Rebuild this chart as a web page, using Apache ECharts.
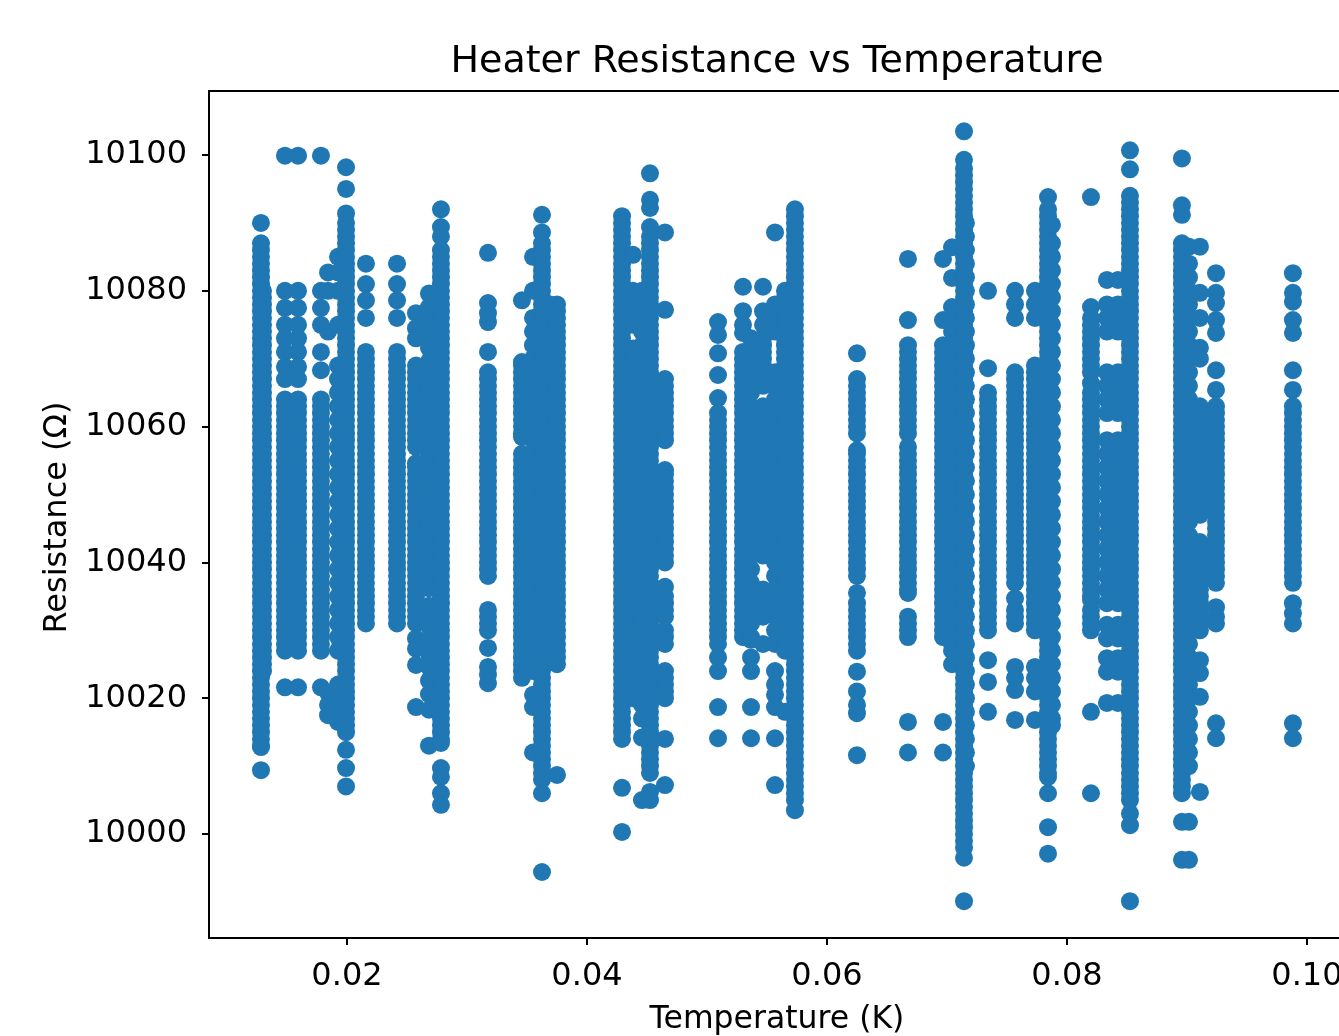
<!DOCTYPE html>
<html><head><meta charset="utf-8">
<style>html,body{margin:0;padding:0;background:#fff;overflow:hidden}#c{width:1339px;height:1036px}</style>
<script src="https://cdn.jsdelivr.net/npm/echarts@6/dist/echarts.min.js"></script>
</head><body><div id="c"></div>
<script>
const titleText = 'Heater Resistance vs Temperature';
const xName = 'Temperature (K)';
const yName = 'Resistance (Ω)';
const xTicks = [0.02, 0.04, 0.06, 0.08, 0.10];
const yTicks = [10000, 10020, 10040, 10060, 10080, 10100];
const resistanceBase = 10000;
// each row: temperature (K), then resistance readings relative to resistanceBase (ohm)
const t01283=[0.01283,90,87,86,85,84,83,82,81,80,79,78,77,76,75,74,73,72,71,70,69,68,67,66,65,64,63,62,61,60,59,58,57,56,55,54,53,52,51,50,49,48,47,46,45,44,43,42,41,40,39,38,37,36,35,34,33,32,31,30,29,28,27,26,25,24,23,22,21,20,19,18,17,16,15,14,13,12.8,9.4];
const t01300=[0.0130,80,79,78,77,76,75,74,73,72,71,70,69,68,67,66,65,64,63,62,61,60,59,58,57,56,55,54,53,52,51,50,49,48,47,46,45,44,43,42,41,40,39,38,37,36,35,34,33,32,31,30,29,28,27,26,25,24];
const t01483=[0.01483,99.9,80,77.5,75,73,71,68.8,67,64,63,62,61,60,59,58,57,56,55,54,53,52,51,50,49,48,47,46,45,44,43,42,41,40,39,38,37,36,35,34,33,32,31,30,29,28,27,21.6];
const t01592=[0.01592,99.9,80,77.5,75,73,71,68.8,67,64,63,62,61,60,59,58,57,56,55,54,53,52,51,50,49,48,47,46,45,44,43,42,41,40,39,38,37,36,35,34,33,32,31,30,29,28,27,21.6];
const t01783=[0.01783,99.9,80,77.5,75,71,68.3,64,63,62,61,60,59,58,57,56,55,54,53,52,51,50,49,48,47,46,45,44,43,42,41,40,39,38,37,36,35,34,33,32,31,30,29,28,27,21.6];
const t01842=[0.01842,82.7,80,74,20.8,19,17.5];
const t01925=[0.01925,85,82.7,80,75,69,67,65,63,61,59,57,55,53,51,49,47,45,43,41,39,37,35,33,31,29,27,22,20,18,16.5];
const t01992=[0.01992,98.2,95,91.4,90,89,88,87,86,85,84,83,82,81,80,79,78,77,76,75,74,73,72,71,70,69,68,67,66,65,64,63,62,61,60,59,58,57,56,55,54,53,52,51,50,49,48,47,46,45,44,43,42,41,40,39,38,37,36,35,34,33,32,31,30,29,28,27,26,25,24,23,22,21,20,19,18,17,16,15,12.4,9.7,7];
const t02158=[0.02158,84,81,78.6,76,71,70,69,68,67,66,65,64,63,62,61,60,59,58,57,56,55,54,53,52,51,50,49,48,47,46,45,44,43,42,41,40,39,38,37,36,35,34,33,32,31];
const t02417=[0.02417,84,81,78.6,76,71,70,69,68,67,66,65,64,63,62,61,60,59,58,57,56,55,54,53,52,51,50,49,48,47,46,45,44,43,42,41,40,39,38,37,36,35,34,33,32,31];
const t02575=[0.02575,76.7,74.5,73,69,68,67,66,65,64,63,62,61,60,59,58,57,54.6,54,53,52,51,50,49,48,47,46,45,44,43,42,41,40,39,38,37,36,35,34,33,32,31,28.8,27.3,24.9,18.7];
const t02683=[0.02683,79.6,77.6,75.6,73.6,71.6,69.6,67.6,65.6,63.6,61.6,59.6,57.6,55.6,53.6,51.6,49.6,47.6,45.6,43.6,41.6,39.6,37.8,36.2,33.6,31.6,30.6,28.6,26.6,24.6,22.6,20.6,18.3,13];
const t02783=[0.02783,92,89.4,88,86,85,84,83,82,81,80,79,78,77,76,75,74,73,72,71,70,69,68,67,66,65,64,63,62,61,60,59,58,57,56,55,54,53,52,51,50,49,48,47,46,45,44,43,42,41,40,39,38,37,36,35,34,33,32,31,30,29,28,27,26,25,24,23,22,21,20,19,18,17,16,15,14,13.4,9.7,8.4,6,4.3];
const t03175=[0.03175,85.6,78.2,76.7,75.4,71,68,67,66,65,64,63,62,61,60,59,58,57,56,55,54,53,52,51,50,49,48,47,46,45,44,43,42,41,40,39,38,33,32,31,30,27.4,24.6,23.5,22.2];
const t03458=[0.03458,78.6,69.5,69,68,67,66,65,64,63,62,61,60,59,58.5,56,55,54,53,52,51,50,49,48,47,46,45,44,43,42,41,40,39,38,37,36,35,34,33,32,31,30,29,28,27,26,25,24,23];
const t03550=[0.0355,85,80,76,74,72,70,68,66,64,62,60,58,56,54,52,50,48,46,44,42,40,38,36,34,32,30,28,26,24,20.5,18.7,12];
const t03625=[0.03625,91.2,88.6,87,86,85,84,83,82,81,80,79,78,77,76,75,74,73,72,71,70,69,68,67,66,65,64,63,62,61,60,59,58,57,56,55,54,53,52,51,50,49,48,47,46,45,44,43,42,41,40,39,38,37,36,35,34,33,32,31,30,29,28,27,26,25,24,23,22,21,20,19,18,17,16,15,14,13,12,11,10,9,8,6,-5.6];
const t03692=[0.03692,78,76,74,72,70,68,66,64,62,60,58,56,54,52,50,48,46,44,42,40,38,36,34,32,30,28,26];
const t03750=[0.0375,78,77,76,75,74,73,72,71,70,69,68,67,66,65,64,63,62,61,60,59,58,57,56,55,54,53,52,51,50,49,48,47,46,45,44,43,42,41,40,39,38,37,36,35,34,33,32,31,30,29,28,27,26,25,8.7];
const t04292=[0.04292,91,90,89,88,87,86,85,84,83,82,81,80,79,78,77,76,75,74,73,72,71,70,69,68,67,66,65,64,63,62,61,60,59,58,57,56,55,54,53,52,51,50,49,48,47,46,45,44,43,42,41,40,39,38,37,36,35,34,33,32,31,30,29,28,27,26,25,24,23,22,21,20,19,18,17,16,15,14,6.8,0.3];
const t04383=[0.04383,85.3,80,78,76,75,71.5,70,68,66,64,62,60,58,56,54,52,50,48,46,44,42,40,38,36,34,32,30,28.5,27,25,23,21,20];
const t04458=[0.04458,80,78,76,74,72,70,68,66,64,62,60,58,56,54,52,50,48,46,44,42,40,38,36,34,32,31,29,27,25,23,21,19,17,14.2,5];
const t04525=[0.04525,97.3,93.4,92.2,89.4,88,87,86,85,84,83,82,81,80,79,78,77,76,75,74,73,72,71,70,69,68,67,66,65,64,63,62,61,60,59,58,57,56,55,54,53,52,51,50,49,48,47,46,45,44,43,42,41,40,39,38,37,36,35,34,33,32,31,30,29,28,27,26,25,24,23,22,21,20,19,18,17,16,15,14,13,12,11,10,9,6.2,5];
const t04650=[0.0465,88.6,77.2,67,66,65,64,63,62,61,60,59,58,53.6,53,52,51,50,49,48,47,46,45,44,43,42,41,40,36.4,35,34,33,32,30,29,28,24,23,22,21,20,14,7.2];
const t05092=[0.05092,75.4,73.5,70.8,67.6,64.2,62,61,60,59,58,57,56,55,54,53,52,51,50,49,48,47,46,45,44,43,42,41,40,39,38,37,36,35,34,33,32,31,30,29,28,26,24,18.7,14.1];
const t05300=[0.053,80.6,77,75,73.8,71,70,69,68,67,66,65,64,63,62,61,60,59,58,57,56,55,54,53,52,51,50,49,48,47,46,45,44,43,42,41,40,39,38,37,36,35,34,33,32,31,30,29];
const t05367=[0.05367,73,71,69,67,65,63,61,59,57,55,53,51,49,47,45,43,41,39,37,35,33,31,29,28.6,26,24,18.7,14.1];
const t05467=[0.05467,80.6,77,75,73,72,71,70,69,68,67,66,63,62,61,60,59,58,57,56,55,54,53,52,51,50,49,48,47,46,45,44,43,42,41,36,35,34,33,32,28];
const t05567=[0.05567,88.6,78,76,74,68,66,64,62,60,58,56,54,52,50,48,46,44,42,40,38,36,34,32,30,28,24,22,20.5,18.7,14.1,7.2];
const t05650=[0.0565,80,79,78,77,76,75,74,73,72,71,70,69,68,67,66,65,64,63,62,61,60,59,58,57,56,55,54,53,52,51,50,49,48,47,46,45,44,43,42,41,40,39,38,37,36,35,34,33,32,31,30,29,28,27,18];
const t05733=[0.05733,92,91,90,89,88,87,86,85,84,83,82,81,80,79,78,77,76,75,74,73,72,71,70,69,68,67,66,65,64,63,62,61,60,59,58,57,56,55,54,53,52,51,50,49,48,47,46,45,44,43,42,41,40,39,38,37,36,35,34,33,32,31,30,29,28,27,26,25,24,23,22,21,20,19,18,17,16,15,14,13,12,11,10,9,8,7,6,5,3.5];
const t06250=[0.0625,70.8,67,66,65,64,63,62,61,60,59,56.5,56,55,54,53,52,51,50,49,48,47,46,45,44,43,42,41,40,39,38,35.5,34,33,32,31,30,29,28,27,23.9,21,19,17.8,11.6];
const t06675=[0.06675,84.7,75.7,72,71,70,69,68,67,66,65,64,63,62,61,60,59,57,56,55,54,53,52,51,50,49,48,47,46,45,44,43,42,41,40,39,38,37,36,35.5,32,31,30,29,16.5,12];
const t06967=[0.06967,84.7,75.7,72,71,70,69,68,67,66,65,64,63,62,61,60,59,58,57,56,55,54,53,52,51,50,49,48,47,46,45,44,43,42,41,40,39,38,37,36,35,34,33,32,31,30,29,16.5,12];
const t07042=[0.07042,86.4,81.9,77.6,76,74,72,70,68,66,64,62,60,58,56,54,52,50,48,46,44,42,40,38,36,34,32,30,28,27,25];
const t07142=[0.07142,103.5,99.3,98,97,96,95,94,93,92,91,90,89,88,87,86,85,84,83,82,81,80,79,78,77,76,75,74,73,72,71,70,69,68,67,66,65,64,63,62,61,60,59,58,57,56,55,54,53,52,51,50,49,48,47,46,45,44,43,42,41,40,39,38,37,36,35,34,33,32,31,30,29,28,27,26,25,24,23,22,21,20,19,18,17,16,15,14,13,12,11,10,9,8,7,6,5,4,3,2,1,0,-1,-2,-3.5,-9.9];
const t07158=[0.07158,90,88,86,84,82,80,78,76,74,72,70,68,66,64,62,60,58,56,54,52,50,48,46,44,42,40,38,36,34,32,30,28,26,24,22,20,18,16,14,12,10];
const t07342=[0.07342,80,68.6,65,64,63,62,61,60,59,58,57,56,55,54,53,52,51,50,49,48,47,46,45,44,43,42,41,40,39,38,37,36,35,34,33,32,31,30,25.6,22.4,18];
const t07567=[0.07567,80,78,76,68,67,66,65,64,63,62,61,60,59,58,57,56,55,54,53,52,51,50,49,48,47,46,45,44,43,42,41,40,39,38,37,34.7,33,32,31,24.6,23,21.2,16.8];
const t07733=[0.07733,80,78,76,69,68,67,66,65,64,63,62,61,60,59,58,57,56,55,54,53,52,51,50,49,48,47,46,45,44,43,42,41,40,39,38,37,36,35,34,33,32,31,30,24.6,23,21,16.8];
const t07842=[0.07842,93.8,92,91,90,89,88,87,86,85,84,83,82,81,80,79,78,77,76,75,74,73,72,71,70,69,68,67,66,65,64,63,62,61,60,59,58,57,56,55,54,53,52,51,50,49,48,47,46,45,44,43,42,41,40,39,38,37,36,35,34,33,32,31,30,29,28,27,26,25,24,23,22,21,20,19,18,17,16,15,14,13,12,11,10,9,8.4,6,1,-2.9];
const t07875=[0.07875,89.7,87,85,83,81,79,77,75,73,71,69,67,65,63,61,59,57,55,53,51,49,47,45,43,41,39,37,35,33,31,29,27,25,23,21,19,17,16];
const t08200=[0.082,93.8,77.6,76,75,74,73,72,71,70,69,68,66.4,65,64,63,62,61,60,59,58,57,56,55,54,53,52,51,50,49,48,47,46,45,44,43,42,41,40,39,38,37,36,35,34.5,33,32,31,30,18,6];
const t08333=[0.08333,81.6,78,76,74,68,66,64,62,58,56,54,52,50,48,46,44,42,40,38,36,34,30.8,28.8,25.9,23.9,19.3];
const t08425=[0.08425,81.6,78,76,74,68,66,64,62,58,56,54,52,50,48,46,44,42,40,38,36,34,30.8,28.8,25.9,23.9,19.3];
const t08525=[0.08525,100.7,97.9,94,93,92,91,90,89,88,87,86,85,84,83,82,81,80,79,78,77,76,75,74,73,72,71,70,69,68,67,66,65,64,63,62,61,60,59,58,57,56,55,54,53,52,51,50,49,48,47,46,45,44,43,42,41,40,39,38,37,36,35,34,33,32,31,30,29,28,27,26,25,24,23,22,21,20,19,18,17,16,15,14,13,12,11,10,9,8,7,6,5,3,1.3,-9.9];
const t08958=[0.08958,99.5,92.6,91.2,87,86,85,84,83,82,81,80,79,78,77,76,75,74,73,72,71,70,69,68,67,66,65,64,63,62,61,60,59,58,57,56,55,54,53,52,51,50,49,48,47,46,45,44,43,42,41,40,39,38,37,36,35,34,33,32,31,30,29,28,27,26,25,24,23,22,21,20,19,18,17,16,15,14,13,12,11,10,9,8,7,6,1.8,-3.8];
const t09017=[0.09017,86.5,84,82,80,78,76,74,72,70,68,66,64,62,60,58,56,54,52,50,48,46,44,42,40,38,36,34,32,30,28,26,24,22,20,18,16,14,12,10,1.8,-3.8];
const t09108=[0.09108,86.5,79.7,76,71.6,70,63,62,61,60,59,58,57,56,55,54,53,52,51,50,49,48,47,43,42,41,40,39,38,37,36,35,34,33,32,31,30,25.6,23.7,20.2,6.2];
const t09242=[0.09242,82.6,79.7,78.2,75.7,73.8,68.3,65.4,63,62,61,60,59,58,57,56,55,54,53,52,51,50,49,48,47,46,45,44,43,42,41,40,39,38,37,33.4,32,31,16.3,14.1];
const t09883=[0.09883,82.6,79.7,78.4,75.7,73.8,68.3,65.4,63,62,61,60,59,58,57,56,55,54,53,52,51,50,49,48,47,46,45,44,43,42,41,40,39,38,37,34,32.5,31,16.3,14.1];

const columns=[t01283,t01300,t01483,t01592,t01783,t01842,t01925,t01992,t02158,t02417,t02575,t02683,t02783,t03175,t03458,t03550,t03625,t03692,t03750,t04292,t04383,t04458,t04525,t04650,t05092,t05300,t05367,t05467,t05567,t05650,t05733,t06250,t06675,t06967,t07042,t07142,t07158,t07342,t07567,t07733,t07842,t07875,t08200,t08333,t08425,t08525,t08958,t09017,t09108,t09242,t09883];
const points=[];
columns.forEach(c=>{for(let i=1;i<c.length;i++)points.push([c[0],resistanceBase+c[i]]);});

const font='"DejaVu Sans"';
const chart=echarts.init(document.getElementById('c'),null,{renderer:'canvas'});
chart.setOption({
  animation:false,
  backgroundColor:'#fff',
  title:{text:titleText,left:772,top:57,textAlign:'center',textVerticalAlign:'middle',
    textStyle:{fontFamily:font,fontSize:38,fontWeight:'normal',color:'#000'}},
  grid:{left:209,top:91,width:1136,height:847,outerBoundsMode:'none',containLabel:false,show:true,borderColor:'#000',borderWidth:2,backgroundColor:'transparent'},
  xAxis:{type:'value',min:0.0085,max:0.10317,name:xName,nameLocation:'middle',nameGap:66,
    nameTextStyle:{fontFamily:font,fontSize:31.5,color:'#000'},
    splitLine:{show:false},
    axisLine:{show:false},
    axisTick:{show:true,length:7,customValues:xTicks,lineStyle:{color:'#000',width:2}},
    axisLabel:{customValues:xTicks,margin:23,fontFamily:font,fontSize:32,color:'#000',formatter:v=>v.toFixed(2),showMinLabel:true,showMaxLabel:true}},
  yAxis:{type:'value',min:9984.68,max:10109.43,name:yName,nameLocation:'middle',nameGap:135,
    nameTextStyle:{fontFamily:font,fontSize:32,color:'#000',padding:[0,6,0,0]},
    splitLine:{show:false},
    axisLine:{show:false},
    axisTick:{show:true,length:7,customValues:yTicks,lineStyle:{color:'#000',width:2}},
    axisLabel:{customValues:yTicks,margin:22,padding:[4,0,0,0],fontFamily:font,fontSize:32,color:'#000',formatter:v=>String(Math.round(v))}},
  series:[{type:'scatter',data:points,symbol:'circle',symbolSize:18,clip:true,silent:true,large:false,progressive:0,
    itemStyle:{color:'#1f77b4',opacity:1}}]
});
</script></body></html>
